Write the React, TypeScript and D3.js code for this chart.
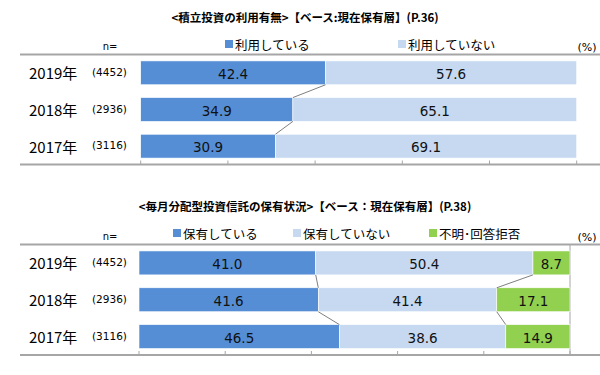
import React from "react";
import * as d3 from "d3";

const years = ["2019年", "2018年", "2017年"];
const sampleSizes = ["(4452)", "(2936)", "(3116)"];

const title1 = "<積立投資の利用有無>【ベース:現在保有層】(P.36)";
const series1Names = ["利用している", "利用していない"];
const series1Values = [
  [42.4, 34.9, 30.9],
  [57.6, 65.1, 69.1],
];

const title2 = "<毎月分配型投資信託の保有状況>【ベース：現在保有層】(P.38)";
const series2Names = ["保有している", "保有していない", "不明･回答拒否"];
const series2Values = [
  [41.0, 41.6, 46.5],
  [50.4, 41.4, 38.6],
  [8.7, 17.1, 14.9],
];

const xTicks = [0, 20, 40, 60, 80, 100];
const colors = ["#558ED5", "#C6D9F1", "#92D050"];

const JP = "'Noto Sans CJK JP', 'Noto Sans', sans-serif";
const NUM = "'DejaVu Sans', Verdana, sans-serif";

type ChartProps = {
  title: string;
  names: string[];
  values: number[][];
  titleY: number;
  legendY: number;
  legendX: number[];
  y0: number;
  y1: number;
  x0: number;
  x1: number;
  rightLine: boolean;
};

function StackChart(p: ChartProps) {
  const x = d3.scaleLinear().domain([0, 100]).range([p.x0, p.x1]);
  const y = d3
    .scaleBand<string>()
    .domain(years)
    .range([p.y0, p.y1])
    .paddingInner(0.35)
    .paddingOuter(0.175);
  const bh = y.bandwidth();

  const rows = years.map((yr, i) => {
    const obj: any = { year: yr };
    p.names.forEach((n, k) => (obj[n] = p.values[k][i]));
    return obj;
  });
  const stack = d3.stack<any>().keys(p.names)(rows);

  const connectors: JSX.Element[] = [];
  for (let i = 0; i < years.length - 1; i++) {
    for (let k = 0; k < p.names.length - 1; k++) {
      const a = stack[k][i][1];
      const b = stack[k][i + 1][1];
      connectors.push(
        <line
          key={`c${i}-${k}`}
          x1={x(Math.min(a, 100))}
          y1={(y(years[i]) as number) + bh}
          x2={x(Math.min(b, 100))}
          y2={y(years[i + 1]) as number}
          stroke="#7F7F7F"
          strokeWidth={1}
        />
      );
    }
  }

  return (
    <g>
      <text
        x={305}
        y={p.titleY}
        textAnchor="middle"
        dominantBaseline="central"
        fontFamily={JP}
        fontWeight="bold"
        fontSize={11.5}
        fill="#000"
      >
        {p.title}
      </text>
      {p.names.map((n, k) => (
        <g key={n}>
          <rect x={p.legendX[k]} y={p.legendY - 4} width={8} height={8} fill={colors[k]} />
          <text
            x={p.legendX[k] + 10}
            y={p.legendY}
            dominantBaseline="central"
            fontFamily={JP}
            fontSize={12.5}
            fill="#000"
          >
            {n}
          </text>
        </g>
      ))}
      <text x={110} y={p.y0 - 8} textAnchor="middle" dominantBaseline="central" fontFamily={NUM} fontSize={10} fill="#000">
        n=
      </text>
      <text x={587} y={p.y0 - 7} textAnchor="middle" dominantBaseline="central" fontFamily={NUM} fontSize={11} fill="#000">
        (%)
      </text>
      <line x1={20} x2={600} y1={p.y0} y2={p.y0} stroke="#A6A6A6" strokeWidth={2} />
      {p.rightLine && (
        <line x1={x(100)} x2={x(100)} y1={p.y0} y2={p.y1} stroke="#A6A6A6" strokeWidth={1} />
      )}
      {years.map((yr, i) => (
        <g key={yr}>
          <text
            x={29}
            y={(y(yr) as number) + bh / 2}
            dominantBaseline="central"
            fontFamily={JP}
            fontSize={15}
            fill="#000"
          >
            {yr}
          </text>
          <text
            x={92}
            y={(y(yr) as number) + bh / 2 - 1}
            dominantBaseline="central"
            fontFamily={NUM}
            fontSize={10.5}
            fill="#000"
          >
            {sampleSizes[i]}
          </text>
        </g>
      ))}
      {stack.map((s, k) =>
        s.map((d, i) => (
          <rect
            key={`${k}-${i}`}
            x={x(d[0])}
            y={y(years[i]) as number}
            width={x(Math.min(d[1], 100)) - x(d[0])}
            height={bh}
            fill={colors[k]}
            stroke="#fff"
            strokeWidth={0.6}
          />
        ))
      )}
      {stack.map((s, k) =>
        s.map((d, i) => (
          <text
            key={`t${k}-${i}`}
            x={(x(d[0]) + x(Math.min(d[1], 100))) / 2}
            y={(y(years[i]) as number) + bh / 2 + 1}
            textAnchor="middle"
            dominantBaseline="central"
            fontFamily={NUM}
            fontSize={13.5}
            fill="#111"
          >
            {p.values[k][i].toFixed(1)}
          </text>
        ))
      )}
      {connectors}
      <line x1={20} x2={600} y1={p.y1} y2={p.y1} stroke="#A6A6A6" strokeWidth={2} />
      {xTicks.map((t) => (
        <line key={t} x1={x(t)} x2={x(t)} y1={p.y1 - 4} y2={p.y1} stroke="#A6A6A6" strokeWidth={1} />
      ))}
    </g>
  );
}

export default function App() {
  return (
    <svg
      width={600}
      height={375}
      style={{ position: "absolute", left: 0, top: 0, background: "#fff" }}
    >
      <rect width={600} height={375} fill="#fff" />
      <StackChart
        title={title1}
        names={series1Names}
        values={series1Values}
        titleY={17}
        legendY={44}
        legendX={[225, 398]}
        y0={54.5}
        y1={164.5}
        x0={140.7}
        x1={576.7}
        rightLine={false}
      />
      <StackChart
        title={title2}
        names={series2Names}
        values={series2Values}
        titleY={206}
        legendY={233}
        legendX={[173, 293, 429]}
        y0={244.5}
        y1={355}
        x0={139}
        x1={570}
        rightLine={true}
      />
    </svg>
  );
}
